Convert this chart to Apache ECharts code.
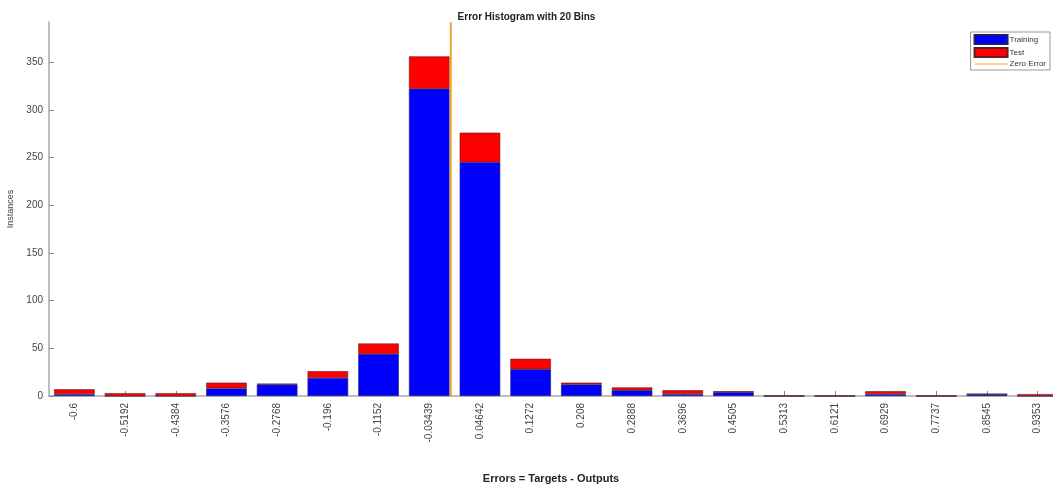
<!DOCTYPE html>
<html>
<head>
<meta charset="utf-8">
<script src="https://cdn.jsdelivr.net/npm/echarts@6/dist/echarts.min.js"></script>
<style>
  html, body { margin: 0; padding: 0; background: #fff; }
  #chart { width: 1053px; height: 487px; }
</style>
</head>
<body>
<div id="chart"></div>
<script>
// Bin centres of the error histogram (tick labels)
const binLabels = ['-0.6', '-0.5192', '-0.4384', '-0.3576', '-0.2768', '-0.196', '-0.1152', '-0.03439',
  '0.04642', '0.1272', '0.208', '0.2888', '0.3696', '0.4505', '0.5313', '0.6121', '0.6929', '0.7737',
  '0.8545', '0.9353'];
// Instances per bin
const trainingCounts = [2, 0, 0, 8, 12, 19, 44, 322, 245, 28, 12, 6, 2, 4, 0, 0, 2, 0, 2, 0];
const testCounts     = [5, 3, 3, 6, 1, 7, 11, 34, 31, 11, 2, 3, 4, 1, 0, 0, 3, 0, 0, 2];
const yTicks = { min: 0, max: 392, interval: 50 };

// Position of zero error in bin-index units
const firstBin = parseFloat(binLabels[0]);
const binStep = (parseFloat(binLabels[binLabels.length - 1]) - firstBin) / (binLabels.length - 1);
const zeroIndex = (0 - firstBin) / binStep;

const font = '"Liberation Sans", Arial, sans-serif';
const axisGray = '#a8a8a8';

const chart = echarts.init(document.getElementById('chart'));
chart.setOption({
  animation: false,
  backgroundColor: '#ffffff',
  title: {
    text: 'Error Histogram with 20 Bins',
    left: 'center', top: 7,
    textStyle: { fontFamily: font, fontSize: 10, fontWeight: 'bold', color: '#222' }
  },
  legend: {
    orient: 'vertical',
    right: 3, top: 32,
    padding: [2, 4, 2, 3],
    itemGap: 2,
    itemWidth: 33, itemHeight: 9,
    backgroundColor: '#fff',
    borderColor: '#999', borderWidth: 1,
    textStyle: { fontFamily: font, fontSize: 8, color: '#333', padding: [0, 0, 0, -3] },
    data: [
      { name: 'Training', icon: 'rect' },
      { name: 'Test', icon: 'rect' },
      { name: 'Zero Error', icon: 'path://M0,4.3 L33,4.3 L33,5.2 L0,5.2 Z' }
    ]
  },
  grid: { left: 49, right: -10, top: 22, bottom: 91, containLabel: false, outerBoundsMode: 'none' },
  xAxis: [
    {
      type: 'category',
      data: binLabels,
      name: 'Errors = Targets - Outputs',
      nameLocation: 'middle',
      nameGap: 77,
      nameTextStyle: { fontFamily: font, fontSize: 11, fontWeight: 'bold', color: '#222', padding: [0, 0, 0, -10] },
      axisLine: { lineStyle: { color: axisGray, width: 1.5 } },
      axisTick: { show: true, inside: true, alignWithLabel: true, length: 5, lineStyle: { color: '#888' } },
      axisLabel: { rotate: 90, fontFamily: font, fontSize: 10, color: '#444', margin: 7, interval: 0 },
      splitLine: { show: false }
    },
    {
      type: 'value',
      min: -0.5, max: binLabels.length - 0.5,
      show: false
    }
  ],
  yAxis: {
    type: 'value',
    min: yTicks.min, max: yTicks.max, interval: yTicks.interval,
    name: 'Instances',
    nameLocation: 'middle',
    nameGap: 30,
    nameTextStyle: { fontFamily: font, fontSize: 9, color: '#444' },
    axisLine: { show: true, onZero: false, lineStyle: { color: axisGray, width: 1.5 } },
    axisTick: { show: true, inside: true, length: 5, lineStyle: { color: '#888' } },
    axisLabel: { fontFamily: font, fontSize: 10, color: '#444', margin: 6, showMaxLabel: false },
    splitLine: { show: false }
  },
  series: [
    {
      name: 'Training', type: 'bar', stack: 'n', xAxisIndex: 0,
      data: trainingCounts,
      barCategoryGap: '20%',
      itemStyle: { color: '#0000ff', borderColor: '#202060', borderWidth: 0.6 }
    },
    {
      name: 'Test', type: 'bar', stack: 'n', xAxisIndex: 0,
      data: testCounts,
      barCategoryGap: '20%',
      itemStyle: { color: '#ff0000', borderColor: '#602020', borderWidth: 0.6 }
    },
    {
      name: 'Zero Error', type: 'line', xAxisIndex: 1,
      data: [[zeroIndex, yTicks.min], [zeroIndex, yTicks.max]],
      symbol: 'none',
      z: 5,
      itemStyle: { color: '#f0a830' },
      lineStyle: { color: '#f0a830', width: 2 }
    }
  ]
});
</script>
</body>
</html>
